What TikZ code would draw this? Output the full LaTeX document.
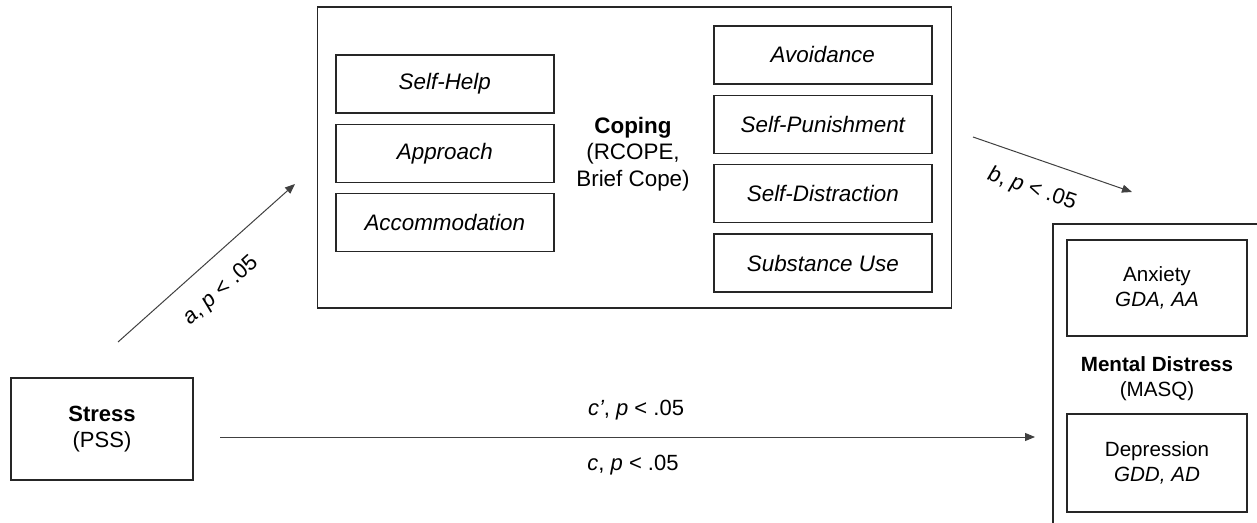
\documentclass[tikz,border=0pt]{standalone}
\usepackage{fontspec}
\setmainfont{Liberation Sans}
\usetikzlibrary{positioning, arrows.meta}

\begin{document}
\begin{tikzpicture}[x=0.5pt, y=-0.5pt, node distance=5pt,
        every node/.style={font=\fontsize{11}{13.3}\selectfont},
        box/.style={draw=black!85, line width=0.7pt, inner sep=0pt, align=center},
        facet/.style={box, minimum width=109pt, minimum height=29pt, font=\fontsize{11.2}{13.3}\selectfont\itshape},
        outcome/.style={box, minimum width=90pt, font=\fontsize{10.3}{12.5}\selectfont},
        patharrow/.style={draw=black!75, line width=0.5pt, -{Triangle[length=5pt, width=4pt]}}]
        \clip (0,0) rectangle (1257,523);

        % Nodes
        \node[box, minimum width=91pt, minimum height=51pt] (stress) at (102,429) {\textbf{Stress}\\(PSS)};
        \node[box, minimum width=317pt, minimum height=150.5pt] (coping) at (634.6,157.5) {};
        \node[align=center, font=\fontsize{11.2}{13.3}\selectfont] (copingtxt) at (633,154) {\textbf{Coping}\\(RCOPE,\\Brief Cope)};
        \node[facet] (selfhelp) at (444.8,84) {Self-Help};
        \node[facet, below=of selfhelp] (approach) {Approach};
        \node[facet, below=of approach] (accommodation) {Accommodation};
        \node[facet] (avoidance) at (822.8,55) {Avoidance};
        \node[facet, below=of avoidance] (punishment) {Self-Punishment};
        \node[facet, below=of punishment] (distraction) {Self-Distraction};
        \node[facet, below=of distraction] (substance) {Substance Use};
        \node[box, minimum width=110pt, minimum height=155pt] (distress) at (1163,379) {};
        \node[outcome, minimum height=48pt] (anxiety) at (1157,288) {Anxiety\\\textit{GDA, AA}};
        \node[align=center, font=\fontsize{10.3}{12.5}\selectfont] (distresstxt) at (1157,379) {\textbf{Mental Distress}\\(MASQ)};
        \node[outcome, minimum height=49pt] (depression) at (1157,463) {Depression\\\textit{GDD, AD}};

        % Free ends of the paths
        \coordinate (a0) at (118,342);
        \coordinate (a1) at (295,184);
        \coordinate (b0) at (973,137);
        \coordinate (b1) at (1132,192);
        \coordinate (c0) at (220,437);
        \coordinate (c1) at (1035,437);

        % Edges
        \draw[patharrow] (a0) -- (a1);
        \draw[patharrow] (b0) -- (b1);
        \draw[patharrow] (c0) -- (c1);

        % Path labels
        \node[rotate=42] (alabel) at (221,291) {\textit{a}, \textit{p} < .05};
        \node[rotate=-19] (blabel) at (1032,189) {\textit{b}, \textit{p} < .05};
        \node (cplabel) at (636,410) {\textit{c’}, \textit{p} < .05};
        \node (clabel) at (633,465) {\textit{c}, \textit{p} < .05};
\end{tikzpicture}
\end{document}
